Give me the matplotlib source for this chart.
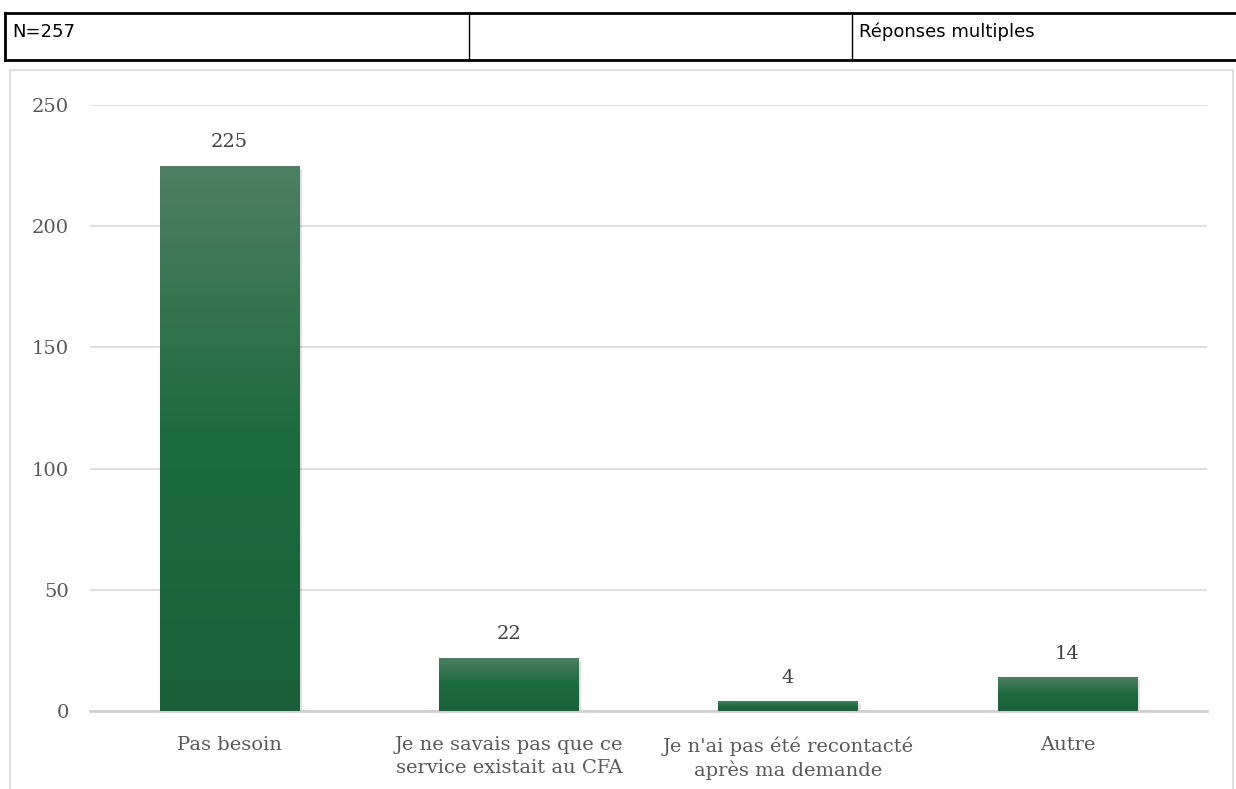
import matplotlib.pyplot as plt
import numpy as np
from matplotlib.patches import Rectangle
from matplotlib.colors import LinearSegmentedColormap

# Données du graphique
categories = ["Pas besoin", "Je ne savais pas que ce\nservice existait au CFA",
              "Je n'ai pas été recontacté\naprès ma demande", "Autre"]
valeurs = [225, 22, 4, 14]
yticks = [0, 50, 100, 150, 200, 250]
entete = ["N=257", "", "Réponses multiples"]

W, H = 1236, 789
fig = plt.figure(figsize=(W / 100, H / 100), dpi=100)

# Tableau d'en-tête (coordonnées en pixels converties en fraction)
def fx(px):
    return px / W

def fy(py):
    return 1 - py / H

t_top, t_bot = 13, 60
cols = [5, 469, 852, 1240]
fig.add_artist(plt.Line2D([fx(5), fx(1240)], [fy(t_top), fy(t_top)], color="black", lw=2))
fig.add_artist(plt.Line2D([fx(5), fx(1240)], [fy(t_bot), fy(t_bot)], color="black", lw=2))
fig.add_artist(plt.Line2D([fx(5), fx(5)], [fy(t_top), fy(t_bot)], color="black", lw=2))
for c in cols[1:3]:
    fig.add_artist(plt.Line2D([fx(c), fx(c)], [fy(t_top), fy(t_bot)], color="black", lw=1))
for i, txt in enumerate(entete):
    fig.text(fx(cols[i] + 7), fy(32), txt, fontsize=13, family="DejaVu Sans",
             color="black", va="center", ha="left")

# Cadre du graphique
fig.add_artist(Rectangle((fx(10), -0.01), fx(1223), fy(70) + 0.01, transform=fig.transFigure,
                         fill=False, edgecolor="#d9d9d9", lw=1.2))

ax = fig.add_axes([fx(90), 78 / H, fx(1207 - 90), (711 - 105) / H])
x = np.arange(len(categories))

# Dégradé vertical pour les barres
cmap = LinearSegmentedColormap.from_list("vert", ["#1a6139", "#1d6a3e", "#4f7f62"])
grad = np.linspace(0, 1, 256).reshape(-1, 1)
largeur = 0.5
for xi, v in zip(x, valeurs):
    # ombre
    ax.add_patch(Rectangle((xi - largeur / 2 + 0.01, -1.2), largeur, v, color="#000000",
                           alpha=0.12, lw=0, zorder=2))
    bar = ax.bar(xi, v, width=largeur, color="none", zorder=3)[0]
    im = ax.imshow(grad, cmap=cmap, aspect="auto", origin="lower",
                   extent=[xi - largeur / 2, xi + largeur / 2, 0, v], zorder=3)
    im.set_clip_path(bar)
    ax.text(xi, v + 6, str(v), ha="center", va="bottom", fontsize=14,
            family="DejaVu Serif", color="#404040")

ax.set_aspect("auto")
ax.set_xlim(-0.5, len(categories) - 0.5)
ax.set_ylim(0, 250)

ax.set_yticks(yticks)
ax.set_yticklabels([str(t) for t in yticks], fontsize=14, family="DejaVu Serif", color="#595959")
ax.set_xticks(x)
ax.set_xticklabels(categories, fontsize=14, family="DejaVu Serif", color="#595959",
                   linespacing=1.35)
ax.tick_params(axis="both", length=0)
ax.tick_params(axis="y", pad=15)
ax.tick_params(axis="x", pad=18)

ax.grid(axis="y", color="#d9d9d9", lw=1.2, zorder=0)
ax.set_axisbelow(True)
for s in ["top", "right", "left"]:
    ax.spines[s].set_visible(False)
ax.spines["bottom"].set_color("#d0d0d0")
ax.spines["bottom"].set_linewidth(2)

fig.savefig("out.png", dpi=100)
